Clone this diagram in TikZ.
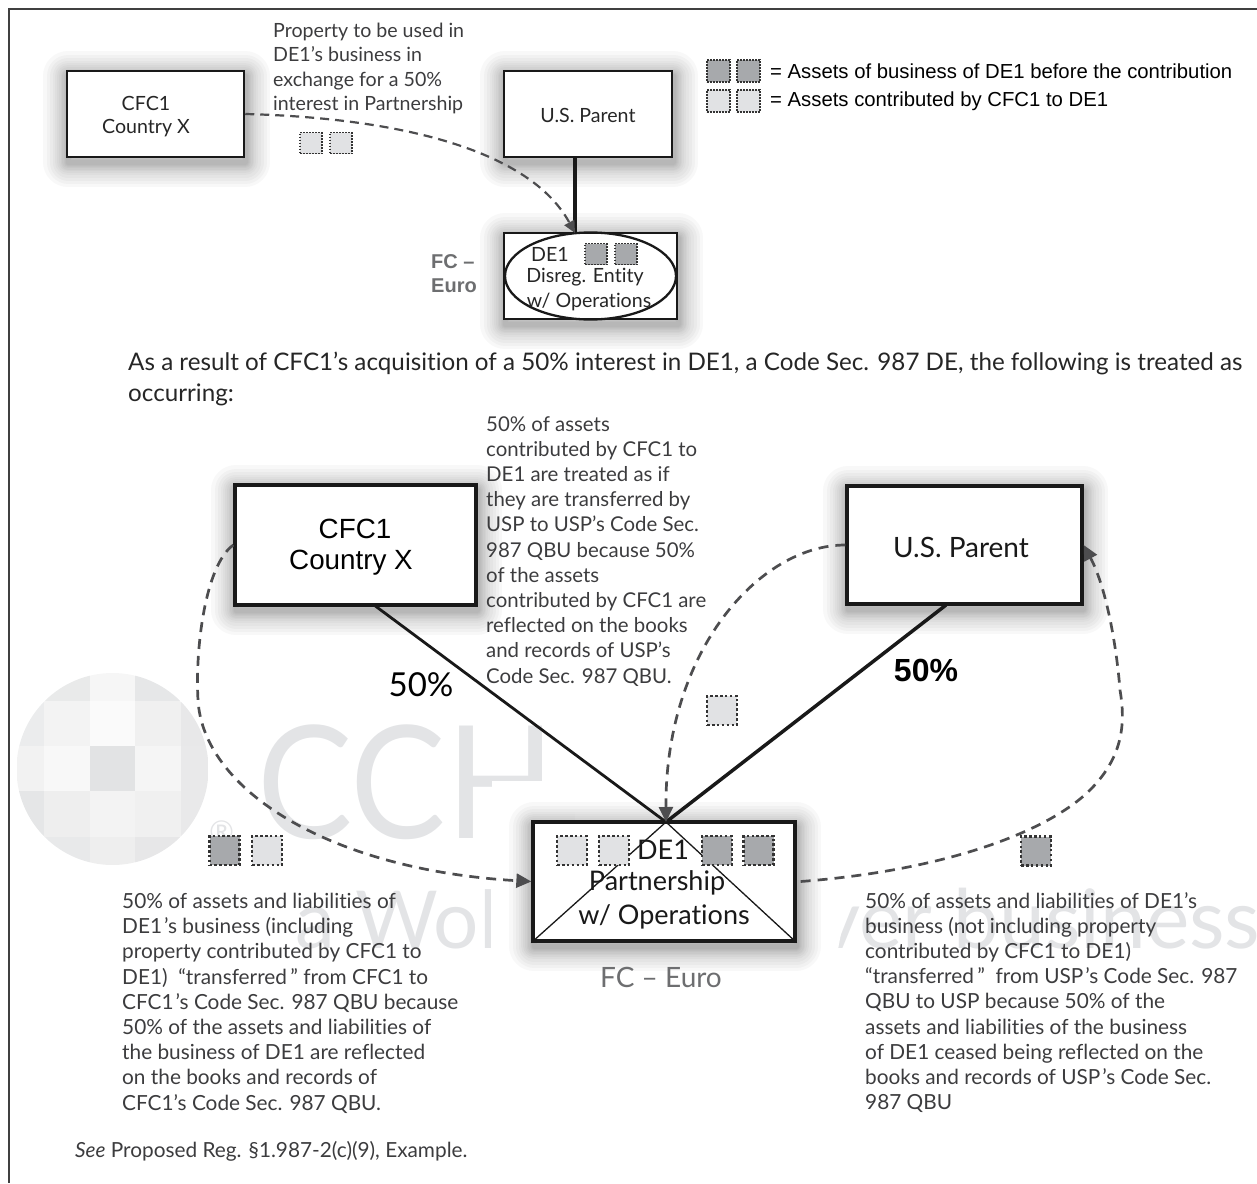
\documentclass[tikz,border=0pt]{standalone}
\usepackage{fontspec}
\usepackage{graphicx}
\usepackage{xcolor}
\setmainfont{Lato}[Ligatures={TeX,NoCommon}]
\newfontfamily\helv{Liberation Sans}
\usetikzlibrary{arrows.meta,positioning,shapes,calc}
\definecolor{inkgray}{HTML}{3C3C3E}
\definecolor{dashgray}{HTML}{4D4D4F}
\definecolor{labelgray}{HTML}{6D6E70}
\definecolor{markgray}{HTML}{E3E4E6}
\definecolor{assetdark}{HTML}{A7A9AC}
\definecolor{assetlight}{HTML}{E1E2E4}

\begin{document}
\begin{tikzpicture}[x=1pt,y=-1pt,
    shadowstep/.style={preaction={draw=black,opacity=.026,line width=#1,line join=round,transform canvas={xshift=1pt,yshift=-5pt}}},
    softshadow/.style={shadowstep=50pt,shadowstep=43pt,shadowstep=37pt,shadowstep=31pt,shadowstep=26pt,shadowstep=22pt,shadowstep=18pt,shadowstep=15pt,shadowstep=12pt,shadowstep=9pt,shadowstep=7pt,shadowstep=5pt},
    entity/.style={rectangle, draw=black!90, fill=white, softshadow, inner sep=0pt},
    note/.style={anchor=north west, inner sep=0pt, align=left, text=inkgray, font=\fontsize{20.8}{25.2}\selectfont},
    smalltext/.style={inner sep=0pt, font=\fontsize{19.6}{24}\selectfont, text=black!85},
    bigtext/.style={inner sep=0pt, font=\fontsize{27}{30}\selectfont, text=black!90},
    holding/.style={draw=black!90},
    flow/.style={draw=dashgray, line width=2.7pt, dash pattern=on 10pt off 7pt, -{Triangle[length=15pt,width=14pt,fill=dashgray]}},
    asset/.style={rectangle, inner sep=0pt, minimum width=#1, minimum height=#1-1pt, draw=black!80, line width=2.6pt, dash pattern=on 2.6pt off 2.3pt},
    fine/.style={line width=1.7pt, dash pattern=on 1.7pt off 1.3pt},
    dark/.style={asset=#1, fill=assetdark},
    light/.style={asset=#1, fill=assetlight},
    watermark/.style={inner sep=0pt, anchor=base west, text=markgray}
]
    \useasboundingbox (0,0) rectangle (1257,1183);
    \clip (0,0) rectangle (1257,1183);

    % Publisher mark behind everything
    \begin{scope}
        \clip (112.5,769) circle [radius=96pt];
        \foreach \ya/\yb/\shades in {673/701/{E8E8E9,E9EAEA,F6F6F6,E6E7E8,E6E7E8},
                                     701/746/{EBECED,F3F3F3,FAFAFA,F0F0F0,E8E8E9},
                                     746/791/{F2F2F2,F8F8F8,E2E3E4,F5F5F5,E9E9EA},
                                     791/837/{E5E6E7,EEEEEE,F3F3F3,F0F0F0,E9E9EA},
                                     837/865/{E8E8E9,E8E9EA,EEEEEE,E7E7E8,E8E8E9}} {
            \foreach \xa/\xb [count=\i] in {17/44,44/90,90/135,135/181,181/208} {
                \foreach \tone [count=\j] in \shades {
                    \ifnum\i=\j
                        \definecolor{cell}{HTML}{\tone}
                        \fill[cell] (\xa,\ya) rectangle (\xb,\yb);
                    \fi
                }
            }
        }
    \end{scope}
    \node[watermark, font=\fontsize{157}{157}\selectfont] (markcch) at (257,838) {\scalebox{.91}[1]{CCH}};
    \node[watermark, font=\fontsize{30}{30}\selectfont] (markreg) at (209,842) {®};
    \node[watermark, font=\fontsize{80}{80}\selectfont] (markleft) at (295,948) {a Wol};
    \node[watermark, font=\fontsize{82}{82}\selectfont] (markright) at (818,948) {ver business};
    \fill[white] (492,781) rectangle (575,850);
    \fill[white] (491,880) rectangle (830,960);
    \fill[white] (818,880) -- (851,880) -- (836,960) -- (818,960) -- cycle;

    % Frame
    \draw[black!75, line width=1.3pt] (1257,9) -| (9,1183);

    % Before the contribution
    \node[entity, line width=2.5pt, minimum width=177pt, minimum height=86pt] (cfctop) at (155.5,114) {};
    \node[smalltext] (cfctopa) at (146,103) {CFC1};
    \node[smalltext] (cfctopb) at (146,128) {Country X};
    \node[entity, line width=2.5pt, minimum width=168pt, minimum height=86pt] (ustop) at (588,114) {};
    \node[smalltext] (ustoplabel) at (588,115) {U.S. Parent};
    \node[entity, line width=2.5pt, minimum width=173pt, minimum height=86pt] (detop) at (590.5,276) {};
    \node[ellipse, draw=black!90, line width=2.3pt, minimum width=171pt, minimum height=87pt, inner sep=0pt] (deoval) at (590.5,276) {};
    \node[smalltext] (detopa) at (550,254) {DE1};
    \node[smalltext] (detopb) at (585,277) {Disreg. Entity};
    \node[smalltext] (detopc) at (589,302) {w/ Operations};
    \node[dark=22pt, fine] (detopx) at (596,254) {};
    \node[dark=22pt, fine] (detopy) at (626,254) {};
    \node[inner sep=0pt, anchor=west, align=left, text=labelgray, font=\helv\bfseries\fontsize{20}{24}\selectfont] (fctop) at (431,274) {FC –\\Euro};
    \coordinate (tee) at (575,233);
    \draw[holding, line width=3.2pt] ([xshift=-13pt]ustop.south) -- (tee);
    \draw[flow, line width=2.2pt, dash pattern=on 9pt off 6pt, -{Triangle[length=12pt,width=11pt,fill=dashgray]}] (cfctop.east) .. controls (400,118) and (530,150) .. (tee);
    \node[light=22pt, fine] (giveta) at (311,143) {};
    \node[light=22pt, fine] (givetb) at (341,143) {};
    \node[note, font=\fontsize{19.6}{24.2}\selectfont] (propnote) at (273,23) {Property to be used in\\DE1’s business in\\exchange for a 50\%\\interest in Partnership};

    % Key
    \node[dark=23pt, fine] (keya) at (718.5,71) {};
    \node[dark=23pt, fine] (keyb) at (748.5,71) {};
    \node[light=23pt, fine] (keyc) at (718.5,101) {};
    \node[light=23pt, fine] (keyd) at (748.5,101) {};
    \node[inner sep=0pt, anchor=west, font=\helv\fontsize{20.3}{24}\selectfont] (keytexta) at (770,71) {= Assets of business of DE1 before the contribution};
    \node[inner sep=0pt, anchor=west, font=\helv\fontsize{20.3}{24}\selectfont] (keytextb) at (770,101) {= Assets contributed by CFC1 to DE1};

    % Sentence between the two parts
    \node[note, text=black!85, font=\fontsize{24.2}{31}\selectfont] (result) at (128,352) {As a result of CFC1’s acquisition of a 50\% interest in DE1, a Code Sec. 987 DE, the following is treated as\\occurring:};

    % After the contribution
    \node[entity, line width=3.3pt, minimum width=241pt, minimum height=120pt] (cfcbig) at (355.5,545) {};
    \node[inner sep=0pt, font=\helv\fontsize{27.8}{30}\selectfont] (cfcbiga) at (355,529) {CFC1};
    \node[inner sep=0pt, font=\helv\fontsize{27.8}{30}\selectfont] (cfcbigb) at (351,563) {Country X};
    \node[entity, line width=3.3pt, minimum width=235pt, minimum height=118pt] (usbig) at (964.5,545) {};
    \node[bigtext, font=\fontsize{28}{30}\selectfont] (usbiglabel) at (961,547) {U.S. Parent};
    \node[entity, line width=3.3pt, minimum width=262pt, minimum height=119pt] (partbox) at (664,881.5) {};
    \coordinate (apex) at (666,822);
    \coordinate (cfcfoot) at (374,605);
    \coordinate (usfoot) at (946,605);
    \draw[black!90, line width=1.3pt] (partbox.south west) -- (apex) -- (partbox.south east);
    \draw[holding, line width=2.8pt] (cfcfoot) -- (apex);
    \draw[holding, line width=3.5pt] (usfoot) -- (apex);
    \node[inner sep=0pt, text=black, font=\fontsize{33}{33}\selectfont] (leftshare) at (421,685) {50\%};
    \node[inner sep=0pt, font=\helv\bfseries\fontsize{32}{32}\selectfont] (rightshare) at (926,670) {50\%};
    \node[bigtext] (parta) at (663,850) {DE1};
    \node[bigtext] (partb) at (657,883) {Partnership};
    \node[bigtext] (partc) at (664,917) {w/ Operations};
    \node[inner sep=0pt, text=labelgray, font=\fontsize{28}{30}\selectfont] (fceuro) at (661,977) {FC -- Euro};
    \node[light=30pt] (parte) at (572,850.5) {};
    \node[light=30pt] (partf) at (614,850.5) {};
    \node[dark=30pt] (partg) at (717,850.5) {};
    \node[dark=30pt] (parth) at (758.5,850.5) {};
    \node[light=30pt] (midasset) at (722,710.5) {};
    \node[dark=30pt] (leftdark) at (224.5,850.5) {};
    \node[light=30pt] (leftlight) at (267,850.5) {};
    \node[dark=30pt] (rightdark) at (1036,851) {};

    % The three moves
    \draw[flow] (cfcbig.west) .. controls (205,565) and (195,650) .. (198,700) .. controls (203,790) and (330,870) .. (partbox.west);
    \draw[flow] (usbig.west) .. controls (760,545) and (665,650) .. (apex);
    \draw[flow] ([xshift=4pt]partbox.east) .. controls (950,870) and (1050,830) .. (1090,790) .. controls (1125,755) and (1125,720) .. (1120,690) .. controls (1116,640) and (1105,585) .. (usbig.east);

    % Notes
    \node[note, font=\fontsize{20.4}{25.2}\selectfont] (midnote) at (486,416) {50\% of assets\\contributed by CFC1 to\\DE1 are treated as if\\they are transferred by\\USP to USP’s Code Sec.\\987 QBU because 50\%\\of the assets\\contributed by CFC1 are\\reflected on the books\\and records of USP’s\\Code Sec. 987 QBU.};
    \node[note] (leftnote) at (122,893) {50\% of assets and liabilities of\\DE1\kern2pt’s business (including\\property contributed by CFC1 to\\DE1) \ “transferred\,” from CFC1 to\\CFC1\kern2pt’s Code Sec. 987 QBU because\\50\% of the assets and liabilities of\\the business of DE1 are reflected\\on the books and records of\\CFC1’s Code Sec. 987 QBU.};
    \node[note] (rightnote) at (865,892) {50\% of assets and liabilities of DE1’s\\business (not including property\\contributed by CFC1 to DE1)\\“transferred\,” \ from USP\kern2pt’s Code Sec. 987\\QBU to USP because 50\% of the\\assets and liabilities of the business\\of DE1 ceased being reflected on the\\books and records of USP\kern2pt’s Code Sec.\\987 QBU};
    \node[note] (seenote) at (75,1141) {\textit{See} Proposed Reg. §1.987-2(c)(9), Example.};
\end{tikzpicture}
\end{document}
